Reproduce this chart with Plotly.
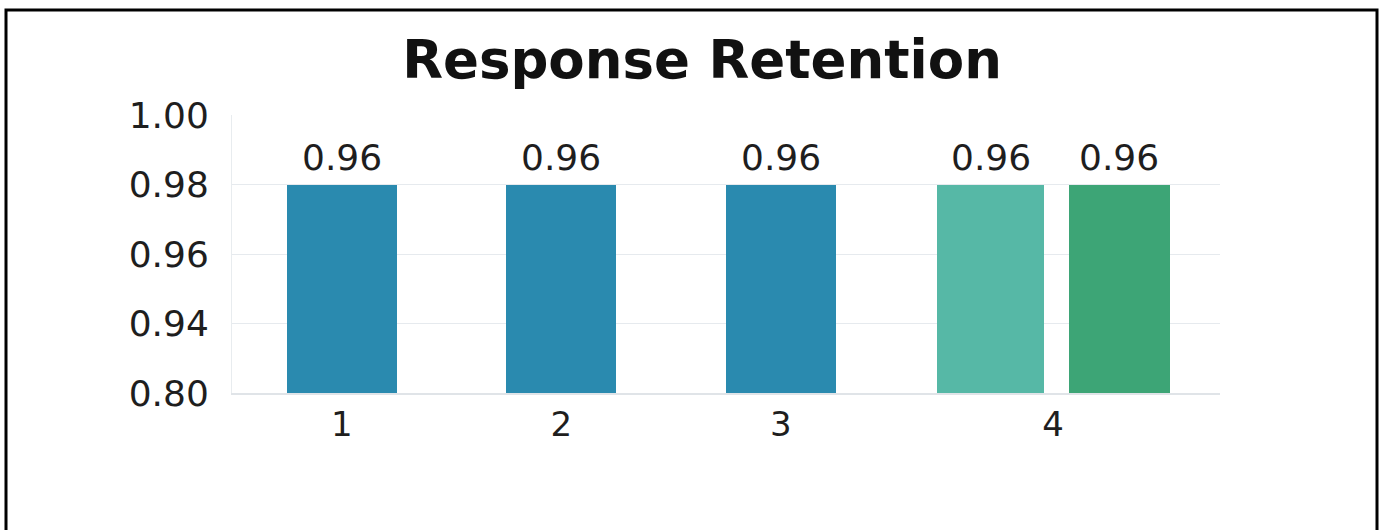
import numpy as np
import plotly.graph_objects as go

# ---- data -------------------------------------------------------------
categories = ["1", "2", "3", "4"]

single_categories = ["1", "2", "3"]
single_values = [0.96, 0.96, 0.96]

paired_a_categories = ["4"]
paired_a_values = [0.96]

paired_b_categories = ["4"]
paired_b_values = [0.96]

y_tick_labels = ["0.80", "0.94", "0.96", "0.98", "1.00"]

# ---- styling ----------------------------------------------------------
W, H = 1387, 530
M_L, M_R, M_T, M_B = 232, 167, 115, 137
PLOT_W = W - M_L - M_R
PLOT_H = H - M_T - M_B

BLUE = "#2A8AAF"
TEAL = "#56B8A6"
GREEN = "#3DA576"
GRID = "#E6EAEE"
TEXT = "#1E1E1E"
NUM_FONT = "DejaVu Sans"
NUM_SIZE = 36

# bar geometry in category units
single_width, single_offset = 0.50, -0.25
pa_width, pa_offset = 0.49, -0.29
pb_width, pb_offset = 0.46, 0.31

cat_index = {c: i for i, c in enumerate(categories)}


def xs(cats):
    return [cat_index[c] for c in cats]


# tick for the paired category sits under the middle of the pair
pair_left = cat_index["4"] + pa_offset
pair_right = cat_index["4"] + pb_offset + pb_width
tick_positions = [0, 1, 2, (pair_left + pair_right) / 2]

# evenly spaced value ticks, the fourth one aligned with the bar tops
y_step = 0.02
y_tick_positions = list(np.round(0.96 - y_step * (3 - np.arange(len(y_tick_labels))), 4))

fig = go.Figure()
for cats, vals, color, wd, off in [
    (single_categories, single_values, BLUE, single_width, single_offset),
    (paired_a_categories, paired_a_values, TEAL, pa_width, pa_offset),
    (paired_b_categories, paired_b_values, GREEN, pb_width, pb_offset),
]:
    fig.add_trace(go.Bar(
        x=xs(cats), y=vals, width=wd, offset=off,
        marker=dict(color=color, line=dict(width=0)),
        showlegend=False, hoverinfo="skip",
    ))
    for x, v in zip(xs(cats), vals):
        fig.add_annotation(
            x=x + off + wd / 2, y=v, text=f"{v:.2f}",
            showarrow=False, yanchor="bottom", yshift=5,
            font=dict(family=NUM_FONT, size=NUM_SIZE, color=TEXT),
        )

# outer frame
def px_x(p):
    return (p - M_L) / PLOT_W


def px_y(p):
    return (H - M_B - p) / PLOT_H


fig.add_shape(type="rect", xref="paper", yref="paper",
              x0=px_x(6), x1=px_x(1377), y0=px_y(540), y1=px_y(10),
              line=dict(color="black", width=3), fillcolor="rgba(0,0,0,0)")

fig.update_layout(
    width=W, height=H,
    margin=dict(l=M_L, r=M_R, t=M_T, b=M_B, autoexpand=False),
    paper_bgcolor="white", plot_bgcolor="white",
    bargap=0,
    title=dict(
        text="<b>Response Retention</b>",
        font=dict(family="DejaVu Sans", size=53, color="#111111"),
        xref="paper", x=px_x(702), xanchor="center",
        yref="container", y=1 - 59 / H, yanchor="middle",
    ),
    xaxis=dict(
        range=[-0.5, 4.0], tickmode="array", tickvals=tick_positions,
        ticktext=categories, showgrid=False, zeroline=False,
        showline=True, linecolor="#E0E4E8", linewidth=2,
        ticks="", ticklabelstandoff=0,
        tickfont=dict(family=NUM_FONT, size=34, color=TEXT),
    ),
    yaxis=dict(
        range=[y_tick_positions[0], y_tick_positions[-1]],
        tickmode="array", tickvals=y_tick_positions, ticktext=y_tick_labels,
        showgrid=True, gridcolor=GRID, gridwidth=1, zeroline=False,
        showline=True, linecolor="#E8ECEF", linewidth=1,
        ticks="", ticklabelstandoff=15,
        tickfont=dict(family=NUM_FONT, size=NUM_SIZE, color=TEXT),
    ),
)

fig.write_html("out.html")
